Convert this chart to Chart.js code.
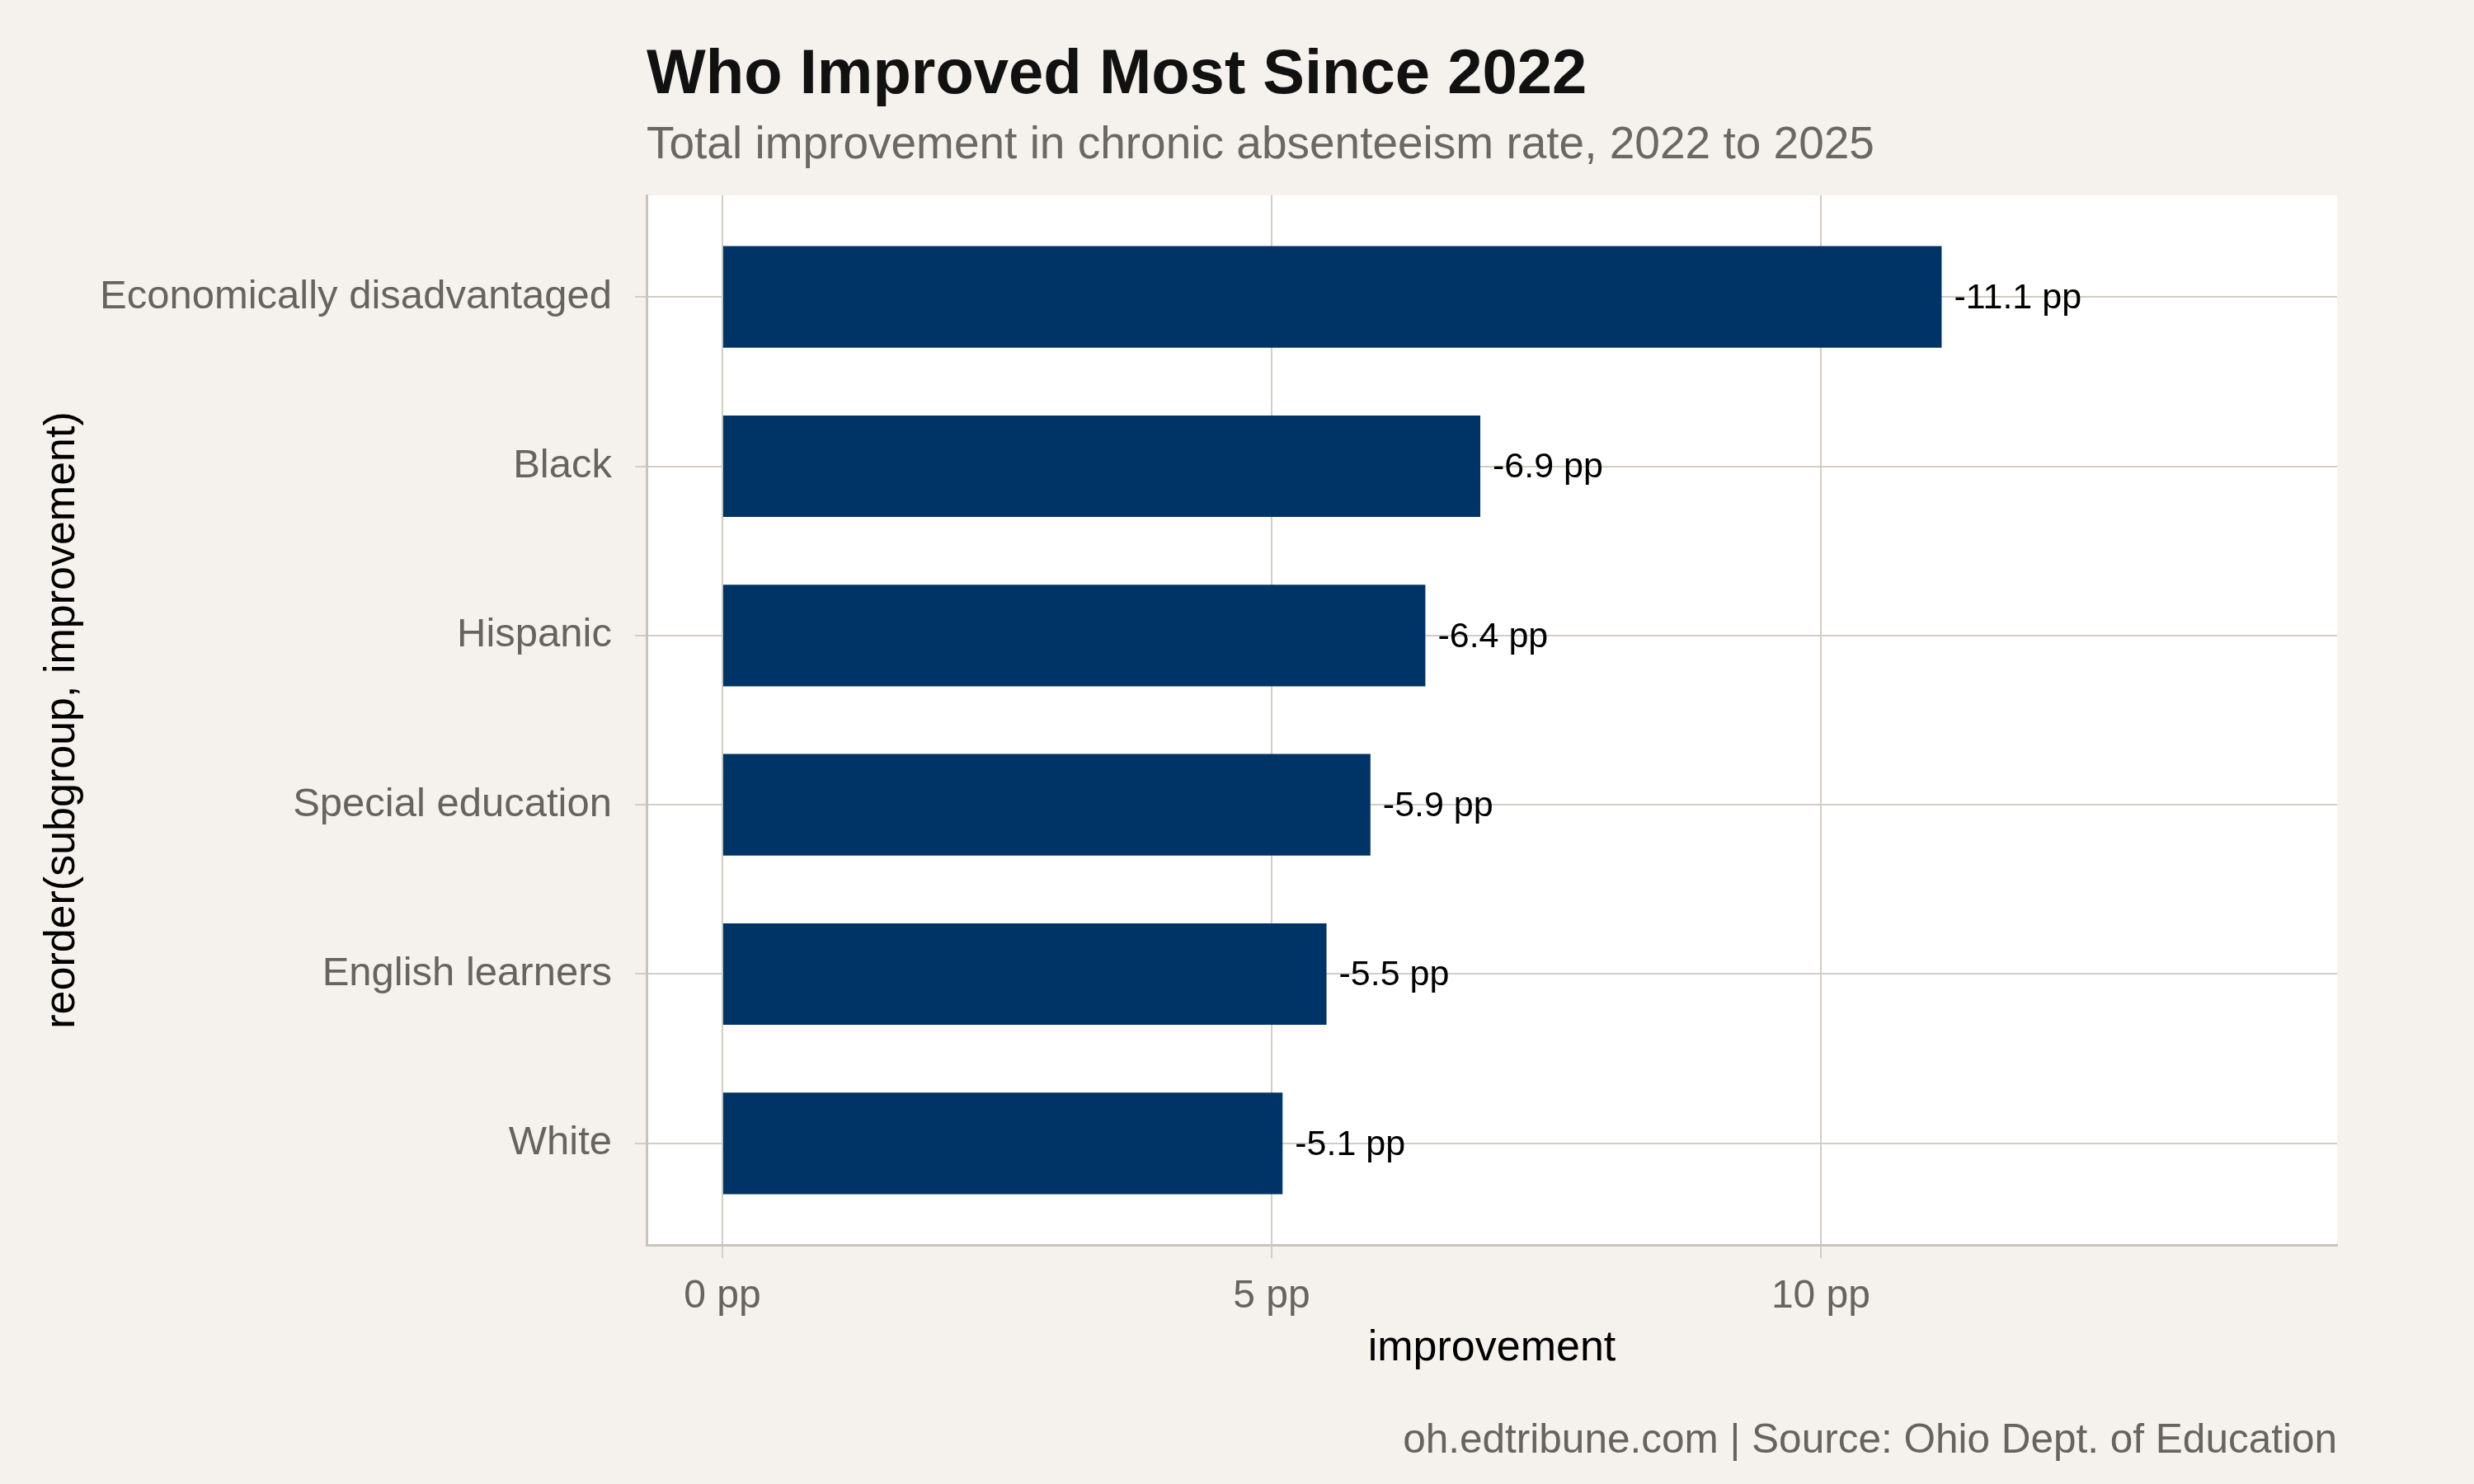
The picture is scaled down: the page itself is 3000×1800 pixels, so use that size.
<!DOCTYPE html>
<html>
<head>
<meta charset="utf-8">
<script src="https://cdn.jsdelivr.net/npm/chart.js@4.4.1/dist/chart.umd.min.js"></script>
<style>
  html, body { margin: 0; padding: 0; background: #f5f2ed; }
  #chart { display: block; }
</style>
</head>
<body>
<canvas id="chart" width="3000" height="1800"></canvas>
<script>
// Chart data
const subgroups = ['Economically disadvantaged', 'Black', 'Hispanic', 'Special education', 'English learners', 'White'];
const improvement = [11.1, 6.9, 6.4, 5.9, 5.5, 5.1];
const xTicks = [0, 5, 10];

const FONT = '"Liberation Sans", Helvetica, Arial, sans-serif';
const GRID = '#d2cdc5';
const GRAY_TEXT = '#67635d';

// Titles, caption and value labels
const textPlugin = {
  id: 'textPlugin',
  afterDatasetsDraw(chart) {
    const ctx = chart.ctx;
    const area = chart.chartArea;
    ctx.save();

    // value labels next to bars
    const meta = chart.getDatasetMeta(0);
    ctx.font = `43px ${FONT}`;
    ctx.fillStyle = '#000';
    ctx.textAlign = 'left';
    ctx.textBaseline = 'middle';
    meta.data.forEach((bar, i) => {
      ctx.fillText(`-${improvement[i].toFixed(1)} pp`, bar.x + 15, bar.y + 2);
    });

    ctx.textBaseline = 'alphabetic';
    ctx.fillStyle = '#111';
    ctx.font = `bold 76px ${FONT}`;
    ctx.fillText('Who Improved Most Since 2022', area.left, 113);

    ctx.fillStyle = '#6b6862';
    ctx.font = `55px ${FONT}`;
    ctx.fillText('Total improvement in chronic absenteeism rate, 2022 to 2025', area.left, 192);

    ctx.fillStyle = '#000';
    ctx.font = `52px ${FONT}`;
    ctx.textAlign = 'center';
    ctx.fillText('improvement', (area.left + area.right) / 2, 1650);

    ctx.save();
    ctx.translate(90, (area.top + area.bottom) / 2);
    ctx.rotate(-Math.PI / 2);
    ctx.fillText('reorder(subgroup, improvement)', 0, 0);
    ctx.restore();

    ctx.fillStyle = GRAY_TEXT;
    ctx.font = `49.5px ${FONT}`;
    ctx.textAlign = 'right';
    ctx.fillText('oh.edtribune.com | Source: Ohio Dept. of Education', area.right, 1762);

    ctx.restore();
  }
};

// White panel behind the plot
const panelPlugin = {
  id: 'panelPlugin',
  beforeDraw(chart) {
    const { ctx, chartArea: a } = chart;
    ctx.save();
    ctx.fillStyle = '#f5f2ed';
    ctx.fillRect(0, 0, chart.width, chart.height);
    ctx.fillStyle = '#ffffff';
    ctx.fillRect(a.left, a.top, a.right - a.left, a.bottom - a.top);
    ctx.restore();
  }
};

function buildChart() {
  const ctx = document.getElementById('chart').getContext('2d');
  return new Chart(ctx, {
    type: 'bar',
    data: {
      datasets: [{
        data: improvement.map((v, i) => ({ x: v, y: i })),
        backgroundColor: '#003366',
        borderWidth: 0,
        barPercentage: 0.6,
        categoryPercentage: 1
      }]
    },
    options: {
      indexAxis: 'y',
      responsive: false,
      animation: false,
      devicePixelRatio: 1,
      layout: { padding: { top: 237, left: 0, right: 166, bottom: 0 } },
      plugins: { legend: { display: false }, tooltip: { enabled: false } },
      scales: {
        x: {
          type: 'linear',
          min: -0.69,
          max: 14.7,
          afterBuildTicks: (scale) => { scale.ticks = xTicks.map(v => ({ value: v })); },
          afterFit: (scale) => { scale.height = 290; },
          grid: { color: GRID, lineWidth: 2, tickLength: 16, tickColor: GRID },
          border: { color: '#c9c4bb', width: 3 },
          ticks: {
            callback: (v) => `${v} pp`,
            color: GRAY_TEXT,
            font: { family: FONT, size: 48 },
            padding: 18,
            maxRotation: 0
          }
        },
        y: {
          type: 'linear',
          reverse: true,
          offset: false,
          min: -0.6,
          max: subgroups.length - 0.4,
          afterBuildTicks: (scale) => { scale.ticks = subgroups.map((_, i) => ({ value: i })); },
          afterFit: (scale) => { scale.width = 784; },
          grid: { offset: false, color: GRID, lineWidth: 2, tickLength: 14, tickColor: GRID },
          border: { color: '#c9c4bb', width: 3 },
          ticks: {
            callback: (v) => subgroups[v],
            color: GRAY_TEXT,
            font: { family: FONT, size: 49 },
            padding: 28
          }
        }
      }
    },
    plugins: [panelPlugin, textPlugin]
  });
}

document.addEventListener('DOMContentLoaded', buildChart);
</script>
</body>
</html>
